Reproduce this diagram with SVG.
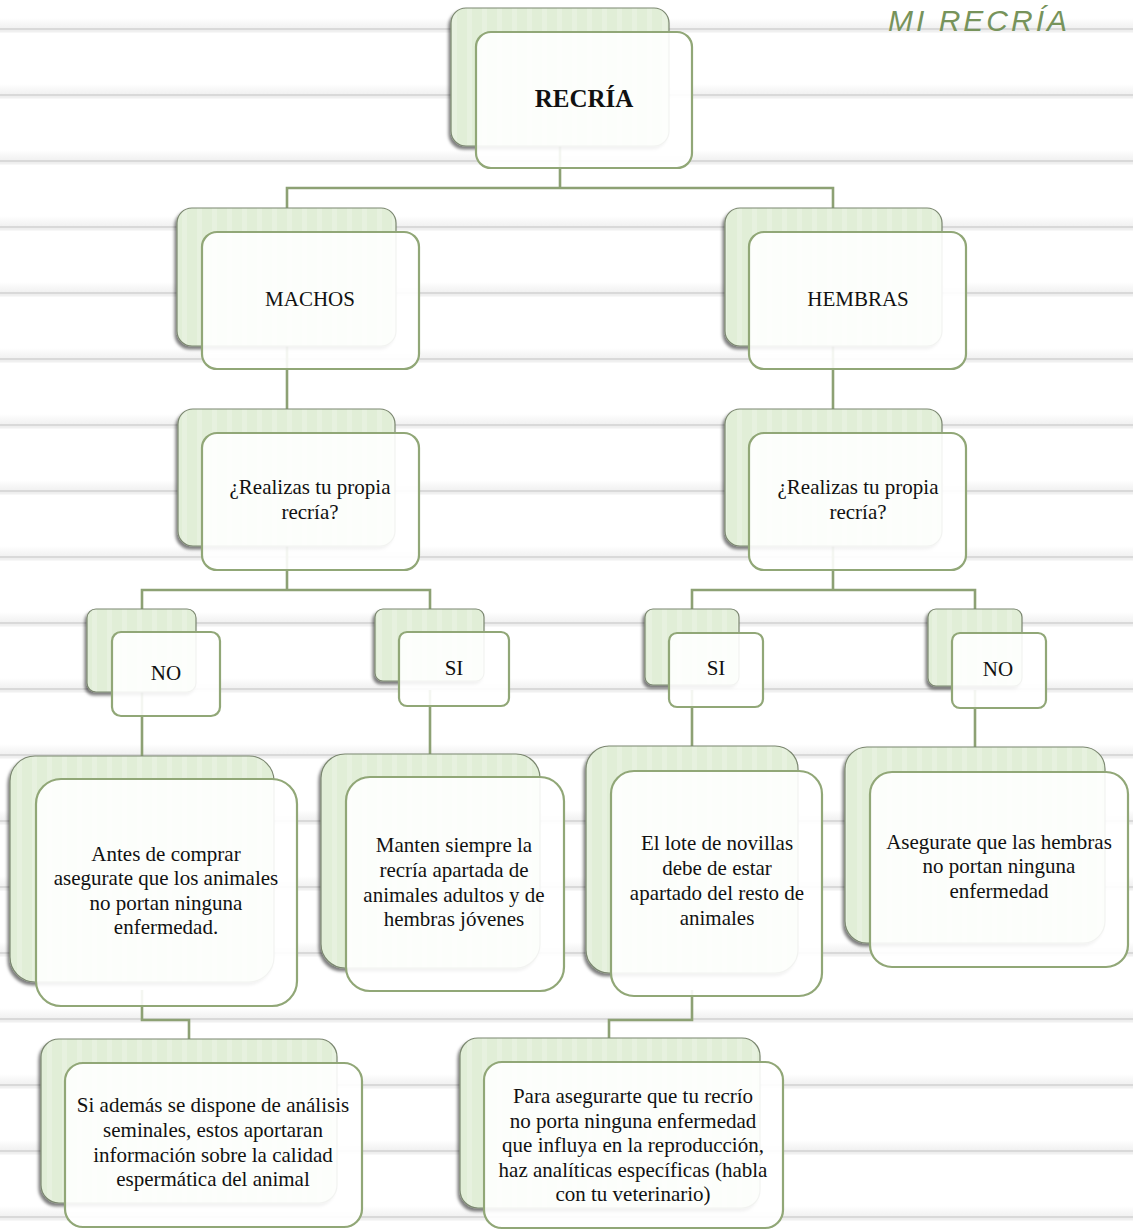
<svg xmlns="http://www.w3.org/2000/svg" width="1133" height="1230" viewBox="0 0 1133 1230">
<defs>
<linearGradient id="band" x1="0" y1="0" x2="0" y2="1">
<stop offset="0" stop-color="#ffffff"/>
<stop offset="1" stop-color="#f1f1f1"/>
</linearGradient>
<pattern id="stripes" patternUnits="userSpaceOnUse" width="15" height="10">
<rect width="15" height="10" fill="#e1eed7"/>
<rect x="2" width="5" height="10" fill="#e7f1df"/>
</pattern>
<filter id="shadow" x="-10%" y="-10%" width="120%" height="125%">
<feDropShadow dx="-2" dy="3" stdDeviation="1.6" flood-color="#000" flood-opacity="0.5"/>
</filter>
<g id="bgline">
<rect x="0" y="-10" width="1133" height="10" fill="url(#band)"/>
<rect x="0" y="0" width="1133" height="2.5" fill="#d9d9d9"/>
<rect x="0" y="2.5" width="1133" height="2" fill="#f0f0f0"/>
</g>
</defs>
<style>
.back{fill:url(#stripes);stroke:#7b8770;stroke-width:1.2;filter:url(#shadow);}
.front{fill:#ffffff;fill-opacity:0.9;stroke:#91a777;stroke-width:2.2;}
.conn{fill:none;stroke:#8da174;stroke-width:2.6;}
.t{font-family:"Liberation Serif","Times New Roman",serif;font-size:21px;fill:#111111;text-anchor:middle;}
.tb{font-weight:bold;font-size:25px;}
.title{font-family:"Liberation Sans",Arial,sans-serif;font-style:italic;font-size:30px;letter-spacing:3px;fill:#77935b;}
</style>
<rect width="1133" height="1230" fill="#ffffff"/>
<g id="background">
<use href="#bgline" y="28"/>
<use href="#bgline" y="94"/>
<use href="#bgline" y="160"/>
<use href="#bgline" y="226"/>
<use href="#bgline" y="292"/>
<use href="#bgline" y="358"/>
<use href="#bgline" y="424"/>
<use href="#bgline" y="490"/>
<use href="#bgline" y="556"/>
<use href="#bgline" y="622"/>
<use href="#bgline" y="688"/>
<use href="#bgline" y="754"/>
<use href="#bgline" y="820"/>
<use href="#bgline" y="886"/>
<use href="#bgline" y="952"/>
<use href="#bgline" y="1018"/>
<use href="#bgline" y="1084"/>
<use href="#bgline" y="1150"/>
<use href="#bgline" y="1216"/>
</g>
<text class="title" x="888" y="31">MI RECRÍA</text>
<g id="connectors">
<path class="conn" d="M560,140 V188 M287,215 V188 H833 V215"/>
<path class="conn" d="M287,340 V415 M833,340 V415"/>
<path class="conn" d="M287,540 V590 M142,615 V590 H430 V615"/>
<path class="conn" d="M833,540 V590 M692,615 V590 H975 V615"/>
<path class="conn" d="M142,690 V762 M430,690 V760 M692,690 V752 M975,690 V752"/>
<path class="conn" d="M142,990 V1020 H189 V1045"/>
<path class="conn" d="M692,990 V1020 H609 V1045"/>
</g>
<g id="node-recria">
<rect class="back" x="451" y="8" width="218" height="138" rx="15"/>
<rect class="front" x="476" y="32" width="216" height="136" rx="15"/>
<text class="t tb" x="584" y="107">RECRÍA</text>
</g>
<g id="node-machos">
<rect class="back" x="177" y="208" width="219" height="138" rx="15"/>
<rect class="front" x="202" y="232" width="217" height="137" rx="15"/>
<text class="t" x="310" y="306">MACHOS</text>
</g>
<g id="node-hembras">
<rect class="back" x="725" y="208" width="217" height="138" rx="15"/>
<rect class="front" x="749" y="232" width="217" height="137" rx="15"/>
<text class="t" x="858" y="306">HEMBRAS</text>
</g>
<g id="node-realiza-machos">
<rect class="back" x="178" y="409" width="217" height="137" rx="15"/>
<rect class="front" x="202" y="433" width="217" height="137" rx="15"/>
<text class="t" x="310" y="494">¿Realizas tu propia</text>
<text class="t" x="310" y="519">recría?</text>
</g>
<g id="node-realiza-hembras">
<rect class="back" x="725" y="409" width="217" height="137" rx="15"/>
<rect class="front" x="749" y="433" width="217" height="137" rx="15"/>
<text class="t" x="858" y="494">¿Realizas tu propia</text>
<text class="t" x="858" y="519">recría?</text>
</g>
<g id="node-no-machos">
<rect class="back" x="87" y="609" width="109" height="83" rx="9"/>
<rect class="front" x="112" y="632" width="108" height="84" rx="9"/>
<text class="t" x="166" y="680">NO</text>
</g>
<g id="node-si-machos">
<rect class="back" x="375" y="609" width="109" height="72" rx="8"/>
<rect class="front" x="399" y="632" width="110" height="74" rx="8"/>
<text class="t" x="454" y="675">SI</text>
</g>
<g id="node-si-hembras">
<rect class="back" x="645" y="609" width="94" height="76" rx="8"/>
<rect class="front" x="669" y="633" width="94" height="74" rx="8"/>
<text class="t" x="716" y="675">SI</text>
</g>
<g id="node-no-hembras">
<rect class="back" x="928" y="609" width="94" height="77" rx="8"/>
<rect class="front" x="952" y="633" width="94" height="75" rx="8"/>
<text class="t" x="998" y="676">NO</text>
</g>
<g id="node-antes">
<rect class="back" x="10" y="756" width="264" height="226" rx="25"/>
<rect class="front" x="36" y="779" width="261" height="227" rx="25"/>
<text class="t" x="166" y="861">Antes de comprar</text>
<text class="t" x="166" y="885">asegurate que los animales</text>
<text class="t" x="166" y="910">no portan ninguna</text>
<text class="t" x="166" y="934">enfermedad.</text>
</g>
<g id="node-manten">
<rect class="back" x="321" y="754" width="219" height="214" rx="24"/>
<rect class="front" x="346" y="777" width="218" height="214" rx="24"/>
<text class="t" x="454" y="852">Manten siempre la</text>
<text class="t" x="454" y="877">recría apartada de</text>
<text class="t" x="454" y="902">animales adultos y de</text>
<text class="t" x="454" y="926">hembras jóvenes</text>
</g>
<g id="node-lote">
<rect class="back" x="586" y="746" width="212" height="227" rx="23"/>
<rect class="front" x="611" y="771" width="211" height="225" rx="23"/>
<text class="t" x="717" y="850">El lote de novillas</text>
<text class="t" x="717" y="875">debe de estar</text>
<text class="t" x="717" y="900">apartado del resto de</text>
<text class="t" x="717" y="925">animales</text>
</g>
<g id="node-asegurate">
<rect class="back" x="845" y="747" width="260" height="196" rx="22"/>
<rect class="front" x="870" y="772" width="258" height="195" rx="22"/>
<text class="t" x="999" y="849">Asegurate que las hembras</text>
<text class="t" x="999" y="873">no portan ninguna</text>
<text class="t" x="999" y="898">enfermedad</text>
</g>
<g id="node-si-ademas">
<rect class="back" x="41" y="1039" width="296" height="164" rx="18"/>
<rect class="front" x="65" y="1063" width="297" height="164" rx="18"/>
<text class="t" x="213" y="1112">Si además se dispone de análisis</text>
<text class="t" x="213" y="1137">seminales, estos aportaran</text>
<text class="t" x="213" y="1162">información sobre la calidad</text>
<text class="t" x="213" y="1186">espermática del animal</text>
</g>
<g id="node-para">
<rect class="back" x="460" y="1038" width="300" height="170" rx="18"/>
<rect class="front" x="484" y="1062" width="299" height="166" rx="18"/>
<text class="t" x="633" y="1103">Para asegurarte que tu recrío</text>
<text class="t" x="633" y="1128">no porta ninguna enfermedad</text>
<text class="t" x="633" y="1152">que influya en la reproducción,</text>
<text class="t" x="633" y="1177">haz analíticas específicas (habla</text>
<text class="t" x="633" y="1201">con tu veterinario)</text>
</g>
</svg>
